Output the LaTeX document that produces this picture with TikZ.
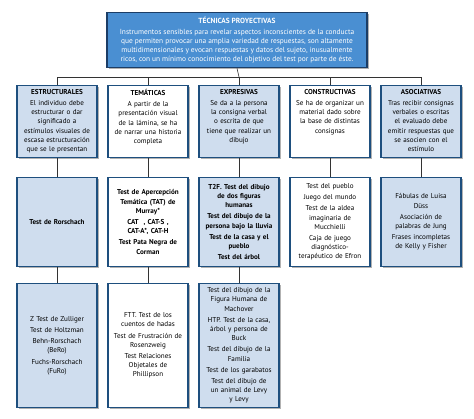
\documentclass[tikz,border=0pt]{standalone}
\usepackage{fontspec}
\setmainfont{PT Sans}
\usetikzlibrary{shadows}
\definecolor{topfill}{HTML}{4A8FD2}
\definecolor{topline}{HTML}{1B3D66}
\definecolor{boxline}{HTML}{1E4F7E}
\definecolor{lightfill}{HTML}{CFDDEE}
\definecolor{conn}{HTML}{333333}
\begin{document}
\begin{tikzpicture}[x=1pt,y=-1pt,
  boxbase/.style={draw=boxline, line width=1.8pt, minimum width=80pt, inner sep=2pt,
    drop shadow={shadow xshift=1.6pt, shadow yshift=-1.6pt, opacity=0.5, fill=black!60}},
  bluebox/.style={boxbase, fill=lightfill},
  whitebox/.style={boxbase, fill=white},
  txt/.style={text width=80pt, align=center, font=\fontsize{7.1}{9.2}\selectfont, inner sep=0pt},
  btxt/.style={txt, font=\fontsize{7.1}{9.2}\selectfont\bfseries},
  rowone/.style={minimum height=72pt},
  rowtwo/.style={minimum height=89pt},
  rowthree/.style={minimum height=124pt},
  conn/.style={draw=conn, line width=0.6pt}
]
\fill[white] (0,0) rectangle (474,418);
\useasboundingbox (0,0) rectangle (474,418);

% top box
\node[draw=topline, line width=1.5pt, fill=topfill, minimum width=260pt, minimum height=55pt,
  text=white, align=center, inner sep=2pt,
  drop shadow={shadow xshift=1.6pt, shadow yshift=-1.6pt, opacity=0.5, fill=black!60},
  font=\fontsize{7.4}{9}\selectfont] (top) at (237,40)
  {{\bfseries TÉCNICAS PROYECTIVAS}\\[2pt]
   Instrumentos sensibles para revelar aspectos inconscientes de la conducta\\
   que permiten provocar una amplia variedad de respuestas, son altamente\\
   multidimensionales y evocan respuestas y datos del sujeto, inusualmente\\
   ricos, con un mínimo conocimiento del objetivo del test por parte de éste.};

% row 1 boxes
\node[bluebox, rowone] (a1) at (57,121.5) {};
\node[whitebox, rowone] (b1) at (148,121.5) {};
\node[bluebox, rowone] (c1) at (239,121.5) {};
\node[whitebox, rowone] (d1) at (330,121.5) {};
\node[bluebox, rowone] (e1) at (421,121.5) {};

\node[txt, anchor=north] (ta1) at ([yshift=-5pt]a1.north)
  {\textbf{ESTRUCTURALES}\\[1.5pt] El individuo debe\\ estructurar o dar\\ significado a\\ estímulos visuales de\\ escasa estructuración\\ que se le presentan};
\node[txt, anchor=north] (tb1) at ([yshift=-5pt]b1.north)
  {\textbf{TEMÁTICAS}\\[1.5pt] A partir de la\\ presentación visual\\ de la lámina, se ha\\ de narrar una historia\\ completa};
\node[txt, anchor=north] (tc1) at ([yshift=-5pt]c1.north)
  {\textbf{EXPRESIVAS}\\[1.5pt] Se da a la persona\\ la consigna verbal\\ o escrita de que\\ tiene que realizar un\\ dibujo};
\node[txt, anchor=north] (td1) at ([yshift=-5pt]d1.north)
  {\textbf{CONSTRUCTIVAS}\\[1.5pt] Se ha de organizar un\\ material dado sobre\\ la base de distintas\\ consignas};
\node[txt, anchor=north] (te1) at ([yshift=-5pt]e1.north)
  {\textbf{ASOCIATIVAS}\\[1.5pt] Tras recibir consignas\\ verbales o escritas\\ el evaluado debe\\ emitir respuestas que\\ se asocien con el\\ estímulo};

% row 2 boxes
\node[bluebox, rowtwo] (a2) at (57,222) {};
\node[whitebox, rowtwo] (b2) at (148,222) {};
\node[bluebox, rowtwo] (c2) at (239,222) {};
\node[whitebox, rowtwo] (d2) at (330,222) {};
\node[bluebox, rowtwo] (e2) at (421,222) {};

\node[btxt] (ta2) at (a2.center) {Test de Rorschach};
\node[btxt] (tb2) at (b2.center)
  {Test de Apercepción\\ Temática (TAT) de\\ Murray*\\[2pt] CAT\ \ , CAT-S\ ,\\ CAT-A*, CAT-H\\[2pt] Test Pata Negra de\\ Corman};
\node[btxt] (tc2) at (c2.center)
  {T2F. Test del dibujo\\ de dos figuras\\ humanas\\[2pt] Test del dibujo de la\\ persona bajo la lluvia\\[2pt] Test de la casa y el\\ pueblo\\[2pt] Test del árbol};
\node[txt] (td2) at (d2.center)
  {Test del pueblo\\[2pt] Juego del mundo\\[2pt] Test de la aldea\\ imaginaria de\\ Mucchielli\\[2pt] Caja de juego\\ diagnóstico-\\ terapéutico de Efron};
\node[txt] (te2) at (e2.center)
  {Fábulas de Luisa\\ Düss\\[2pt] Asociación de\\ palabras de Jung\\[2pt] Frases incompletas\\ de Kelly y Fisher};

% row 3 boxes
\node[bluebox, rowthree] (a3) at (57,345.5) {};
\node[whitebox, rowthree] (b3) at (148,345.5) {};
\node[bluebox, rowthree] (c3) at (239,345.5) {};

\node[txt] (ta3) at (a3.center)
  {Z Test de Zulliger\\[2pt] Test de Holtzman\\[2pt] Behn-Rorschach\\ (BeRo)\\[2pt] Fuchs-Rorschach\\ (FuRo)};
\node[txt] (tb3) at (b3.center)
  {FTT. Test de los\\ cuentos de hadas\\[2pt] Test de Frustración de\\ Rosenzweig\\[2pt] Test Relaciones\\ Objetales de\\ Phillipson};
\node[txt] (tc3) at (c3.center)
  {Test del dibujo de la\\ Figura Humana de\\ Machover\\[2pt] HTP. Test de la casa,\\ árbol y persona de\\ Buck\\[2pt] Test del dibujo de la\\ Familia\\[2pt] Test de los garabatos\\[2pt] Test del dibujo de\\ un animal de Levy\\ y Levy};

% connectors
\coordinate (hub) at (239,77);
\coordinate (hl) at (57,77);
\coordinate (hr) at (421,77);
\draw[conn] (top.south) -- (hub);
\draw[conn] (hl) -- (hr);
\foreach \n in {a1,b1,c1,d1,e1} {
  \draw[conn] (\n.north |- hub) -- (\n.north);
}
\foreach \u/\d in {a1/a2,b1/b2,c1/c2,d1/d2,e1/e2,a2/a3,b2/b3,c2/c3} {
  \draw[conn] (\u.south) -- (\d.north);
}
\end{tikzpicture}
\end{document}
